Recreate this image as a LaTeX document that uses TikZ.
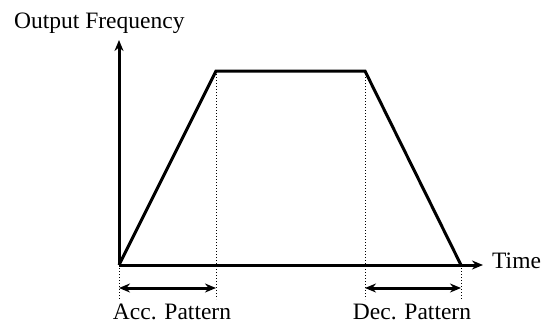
\documentclass[tikz,border=0pt]{standalone}
\usepackage{fontspec}
\setmainfont{Liberation Serif}
\usetikzlibrary{arrows.meta}
\begin{document}
\begin{tikzpicture}[x=1pt,y=-1pt,
  thick line/.style={line width=3pt},
  guide/.style={line width=1pt,dotted},
  axisarrow/.style={thick line,-{Stealth[length=11pt,width=9pt]}},
  span/.style={thick line,{Stealth[length=11pt,width=9pt]}-{Stealth[length=11pt,width=9pt]}},
  lab/.style={font=\fontsize{23.5}{28}\selectfont,inner sep=0pt}]
\useasboundingbox (0,0) rectangle (550,325);
\coordinate (O) at (119,265);
\coordinate (ytop) at (119,40);
\coordinate (xend) at (483,265);
\coordinate (A) at (216,71);
\coordinate (B) at (365,71);
\coordinate (C) at (461,265);
\coordinate (Ob) at (119,299);
\coordinate (Ab) at (216,299);
\coordinate (Bb) at (365,299);
\coordinate (Cb) at (461,299);
\coordinate (a1) at (119,288);
\coordinate (a2) at (216,288);
\coordinate (b1) at (365,288);
\coordinate (b2) at (461,288);
\draw[guide] (O) -- (Ob);
\draw[guide] (A) -- (Ab);
\draw[guide] (B) -- (Bb);
\draw[guide] (C) -- (Cb);
\draw[axisarrow] (O) -- (ytop);
\draw[axisarrow] (O) -- (xend);
\draw[thick line,line join=miter] (O) -- (A) -- (B) -- (C);
\draw[span] (a1) -- (a2);
\draw[span] (b1) -- (b2);
\node[lab,anchor=base west] (yl) at (14,28) {Output Frequency};
\node[lab,anchor=base west] (xl) at (492,268) {Time};
\node[lab,anchor=base] (acc) at (172,319) {Acc. Pattern};
\node[lab,anchor=base] (dec) at (412,319) {Dec. Pattern};
\end{tikzpicture}
\end{document}
